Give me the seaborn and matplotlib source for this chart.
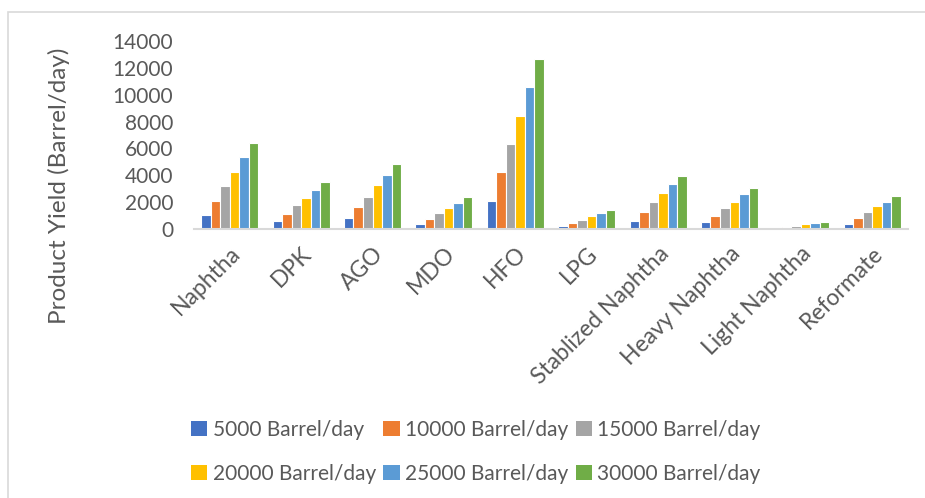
import matplotlib
matplotlib.use("Agg")
import matplotlib.pyplot as plt
import matplotlib.patches as mpatches
import seaborn as sns
import pandas as pd

# Product yields per crude throughput
products = ["Naphtha", "DPK", "AGO", "MDO", "HFO", "LPG",
            "Stablized Naphtha", "Heavy Naphtha", "Light Naphtha", "Reformate"]
rates = ["5000 Barrel/day", "10000 Barrel/day", "15000 Barrel/day",
         "20000 Barrel/day", "25000 Barrel/day", "30000 Barrel/day"]

yield_5000 = [1070, 560, 820, 400, 2120, 200, 620, 500, 70, 370]
yield_10000 = [2120, 1150, 1620, 750, 4210, 450, 1300, 1000, 170, 800]
yield_15000 = [3170, 1750, 2420, 1170, 6310, 700, 2000, 1550, 250, 1250]
yield_20000 = [4260, 2290, 3240, 1550, 8430, 950, 2670, 2040, 370, 1700]
yield_25000 = [5340, 2870, 4040, 1920, 10550, 1200, 3340, 2620, 450, 2040]
yield_30000 = [6380, 3470, 4840, 2370, 12640, 1450, 3970, 3090, 550, 2490]

series = [yield_5000, yield_10000, yield_15000, yield_20000, yield_25000, yield_30000]
colors = ["#4472C4", "#ED7D31", "#A5A5A5", "#FFC000", "#5B9BD5", "#70AD47"]

rows = []
for rate, vals in zip(rates, series):
    for prod, v in zip(products, vals):
        rows.append({"Product": prod, "Rate": rate, "Yield": v})
df = pd.DataFrame(rows)

sns.set_theme(style="white")
plt.rcParams["font.family"] = ["Lato", "DejaVu Sans"]
text_color = "#595959"

fig = plt.figure(figsize=(9.25, 4.98), dpi=100)
ax = fig.add_axes([194 / 925, 1 - 229 / 498, 714 / 925, 188 / 498])

sns.barplot(data=df, x="Product", y="Yield", hue="Rate", order=products,
            hue_order=rates, palette=colors, width=0.8, ax=ax,
            edgecolor="white", linewidth=0.8, legend=False, saturation=1)

ax.set_ylim(0, 14000)
ax.set_xlim(-0.5, len(products) - 0.5)
ax.set_yticks(range(0, 14001, 2000))
ax.set_xlabel("")
ax.set_ylabel("Product Yield (Barrel/day)", fontsize=17.5, color=text_color)
ax.yaxis.set_label_coords(-0.174, 0.23)

for s in ["top", "right", "left"]:
    ax.spines[s].set_visible(False)
ax.spines["bottom"].set_color("#D9D9D9")
ax.spines["bottom"].set_linewidth(1.5)

ax.tick_params(axis="y", length=0, pad=15, labelsize=15, labelcolor=text_color)
ax.tick_params(axis="x", length=0, pad=10, labelsize=16.5, labelcolor=text_color)
for lbl in ax.get_xticklabels():
    lbl.set_rotation(45)
    lbl.set_ha("right")
    lbl.set_va("top")
    lbl.set_rotation_mode("anchor")

# Legend laid out row by row, three entries per row
handles = [mpatches.Patch(facecolor=c, edgecolor="none") for c in colors]
order = [0, 3, 1, 4, 2, 5]
leg = fig.legend([handles[i] for i in order], [rates[i] for i in order],
                 ncol=3, loc="upper left", bbox_to_anchor=(172 / 925, 1 - 401 / 498),
                 frameon=False, fontsize=15, handlelength=0.8, handleheight=0.8,
                 handletextpad=0.25, columnspacing=0.35, labelspacing=1.15,
                 labelcolor=text_color)

# Chart area border
fig.patches.append(mpatches.Rectangle((8 / 925, -0.1), 1.2, 1 - 12 / 498 + 0.1,
                                      transform=fig.transFigure, fill=False,
                                      edgecolor="#D9D9D9", linewidth=1.2))

fig.savefig("out.png", dpi=100)
